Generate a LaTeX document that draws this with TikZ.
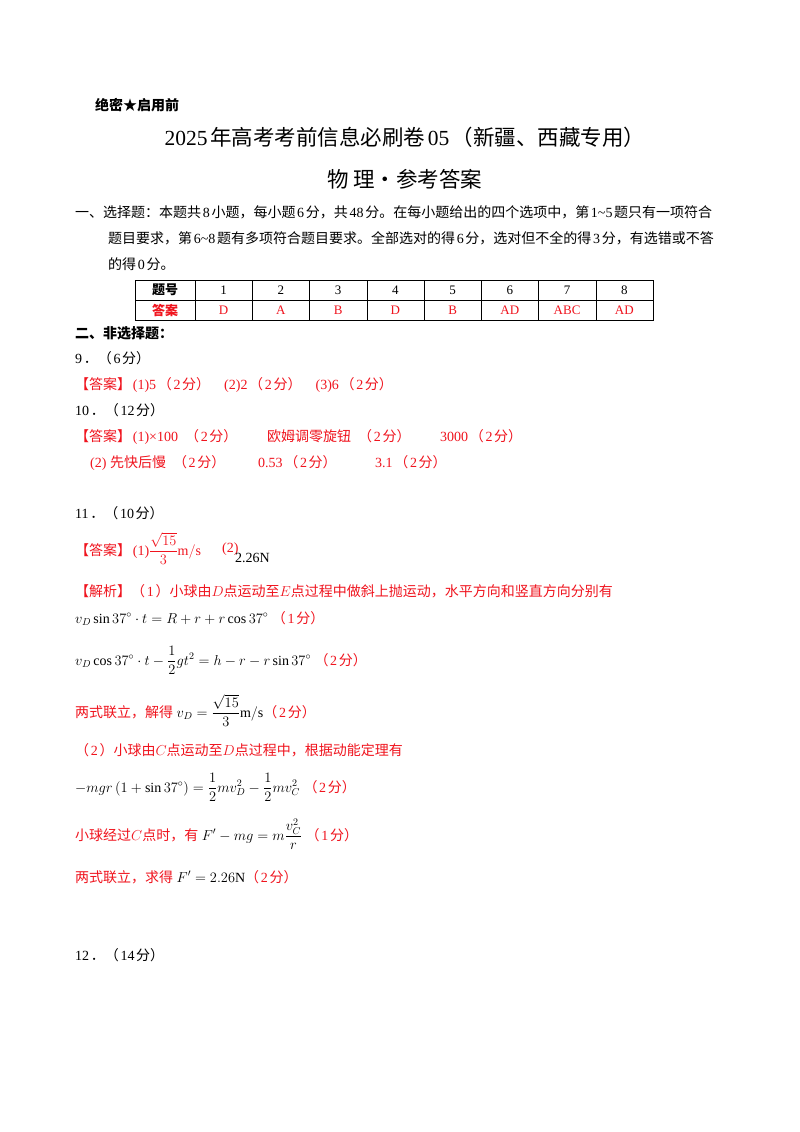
\documentclass[tikz,border=0pt]{standalone}
\usepackage{amsmath}
\usepackage{fontspec}
\setmainfont{Liberation Serif}
\newfontfamily\cjk{Noto Sans CJK SC}
\XeTeXinterchartokenstate=1
\newXeTeXintercharclass\cjkclass
\count255="3000
\loop \XeTeXcharclass\count255=\cjkclass \advance\count255 1 \ifnum\count255<"3040 \repeat
\count255="4E00
\loop \XeTeXcharclass\count255=\cjkclass \advance\count255 1 \ifnum\count255<"A000 \repeat
\count255="FF00
\loop \XeTeXcharclass\count255=\cjkclass \advance\count255 1 \ifnum\count255<"FF20 \repeat
\XeTeXcharclass`★=\cjkclass
\XeTeXcharclass`·=\cjkclass
\XeTeXinterchartoks 0 \cjkclass = {\hskip0.12em\cjk}
\XeTeXinterchartoks 4095 \cjkclass = {\cjk}
\XeTeXinterchartoks \cjkclass 0 = {\rmfamily\hskip0.12em}
\XeTeXinterchartoks \cjkclass 4095 = {\rmfamily}
\definecolor{ans}{RGB}{240,20,30}
\tikzset{t/.style={anchor=base west,inner sep=0pt,font=\fontsize{14}{16}\selectfont},
 r/.style={t,text=ans}, cell/.style={anchor=center,inner sep=0pt,font=\fontsize{13}{15}\selectfont}}
\begin{document}
\begin{tikzpicture}[x=1pt,y=-1pt]
\useasboundingbox[fill=white] (0,0) rectangle (800,1132);
\node[t,font=\fontsize{14}{16}\bfseries] (h0) at (95,110) {绝密★启用前};
\node[anchor=base,inner sep=0pt,font=\fontsize{21.5}{24}\selectfont] (h1) at (405,145) {2025年高考考前信息必刷卷05（新疆、西藏专用）};
\node[anchor=base,inner sep=0pt,font=\fontsize{21.5}{24}\selectfont] (h2) at (405,187) {物\,理·参考答案};
\node[t] (p1) at (75,217) {一、选择题：本题共8小题，每小题6分，共48分。在每小题给出的四个选项中，第1\textasciitilde5题只有一项符合};
\node[t] (p2) at (108,243) {题目要求，第6\textasciitilde8题有多项符合题目要求。全部选对的得6分，选对但不全的得3分，有选错或不答};
\node[t] (p3) at (108,269) {的得0分。};
% table
\draw[line width=0.8pt] (135,280) rectangle (653,320);
\draw (135,300) -- (653,300);
\foreach \i in {0,...,7} \draw ({195+57.25*\i},280) -- ({195+57.25*\i},320);
\node[cell,font=\fontsize{13}{15}\bfseries] (c0) at (165,290) {题号};
\node[cell,font=\fontsize{13}{15}\bfseries,text=ans] (d0) at (165,310) {答案};
\foreach \n/\a [count=\i from 0] in {1/D,2/A,3/B,4/D,5/B,6/AD,7/ABC,8/AD}{
 \node[cell] (c\n) at ({223.6+57.25*\i},290) {\n};
 \node[cell,text=ans] (d\n) at ({223.6+57.25*\i},310) {\a};}
\node[t,font=\fontsize{14}{16}\bfseries] (s2) at (75,338) {二、非选择题：};
\node[t] (q9) at (75,363) {9．（6分）};
\node[r] (a9) at (75,389) {【答案】(1)5（2分）\quad (2)2（2分）\quad (3)6（2分）};
\node[t] (q10) at (75,415) {10．（12分）};
\node[r] (a10a) at (75,441) {【答案】(1)×100\enspace（2分）};
\node[r] (a10b) at (267,441) {欧姆调零旋钮\enspace（2分）};
\node[r] (a10c) at (440,441) {3000（2分）};
\node[r] (a10d) at (90,467) {(2)\ 先快后慢\enspace（2分）};
\node[r] (a10e) at (258,467) {0.53（2分）};
\node[r] (a10f) at (375,467) {3.1（2分）};
\node[t] (q11) at (75,518) {11．（10分）};
\node[r] (a11) at (75,555) {【答案】(1)$\dfrac{\sqrt{15}}{3}\mathrm{m/s}$};
\node[r] (a11p) at (222,552) {(2)};
\node[t] (a11b) at (235,562) {2.26N};
\node[r] (j1) at (75,596) {【解析】（1）小球由$D$点运动至$E$点过程中做斜上抛运动，水平方向和竖直方向分别有};
\node[t] (e1) at (75,623) {$v_D\sin37^\circ\cdot t=R+r+r\cos37^\circ$ \textcolor{ans}{（1分）}};
\node[t] (e2) at (75,665) {$v_D\cos37^\circ\cdot t-\dfrac12gt^2=h-r-r\sin37^\circ$ \textcolor{ans}{（2分）}};
\node[r] (e3) at (75,717) {两式联立，解得\ {\color{black}$v_D=\dfrac{\sqrt{15}}{3}\mathrm{m/s}$}（2分）};
\node[r] (j2) at (75,755) {（2）小球由$C$点运动至$D$点过程中，根据动能定理有};
\node[t] (e4) at (75,792) {$-mgr\left(1+\sin37^\circ\right)=\dfrac12mv_D^2-\dfrac12mv_C^2$\ \textcolor{ans}{（2分）}};
\node[r] (e5) at (75,840) {小球经过$C$点时，有\ {\color{black}$F'-mg=m\dfrac{v_C^2}{r}$}\ （1分）};
\node[r] (e6) at (75,882) {两式联立，求得\ {\color{black}$F'=2.26\mathrm{N}$}（2分）};
\node[t] (q12) at (75,960) {12．（14分）};
\end{tikzpicture}
\end{document}
